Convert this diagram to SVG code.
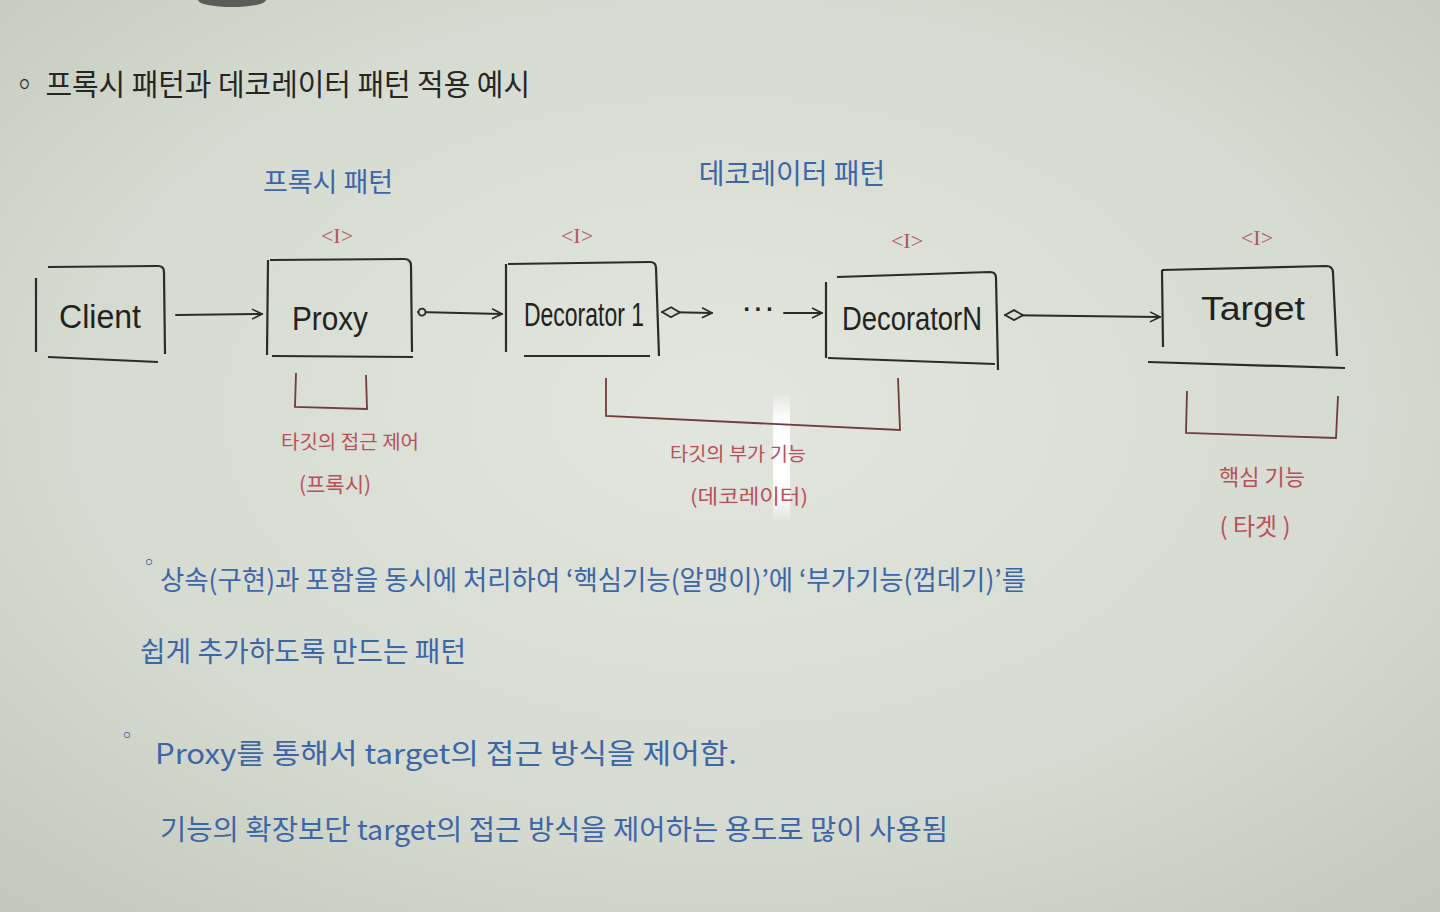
<svg xmlns="http://www.w3.org/2000/svg" width="1440" height="912" viewBox="0 0 1440 912">
<defs>
<radialGradient id="bg" cx="0.5" cy="0.45" r="0.75">
<stop offset="0" stop-color="#e2e6de"/>
<stop offset="0.6" stop-color="#d6dbd1"/>
<stop offset="1" stop-color="#c2c7bb"/>
</radialGradient>
<linearGradient id="glare" x1="0" y1="0" x2="0" y2="1">
<stop offset="0" stop-color="#ffffff" stop-opacity="0"/>
<stop offset="0.2" stop-color="#ffffff" stop-opacity="0.95"/>
<stop offset="0.8" stop-color="#ffffff" stop-opacity="0.95"/>
<stop offset="1" stop-color="#ffffff" stop-opacity="0"/>
</linearGradient>
<marker id="arrow" viewBox="0 0 12 12" refX="11" refY="6" markerWidth="12" markerHeight="12" markerUnits="userSpaceOnUse" orient="auto">
<path d="M1,1 L11,6 L1,11" fill="none" stroke="#2b2b28" stroke-width="1.6"/>
</marker>
<marker id="diamond" viewBox="0 0 20 12" refX="1" refY="6" markerWidth="20" markerHeight="12" markerUnits="userSpaceOnUse" orient="auto">
<path d="M1,6 L10,1 L19,6 L10,11 Z" fill="#d9ddd4" stroke="#2b2b28" stroke-width="1.8"/>
</marker>
<marker id="dot" viewBox="0 0 10 10" refX="1" refY="5" markerWidth="10" markerHeight="10" markerUnits="userSpaceOnUse" orient="auto">
<circle cx="5" cy="5" r="3.5" fill="#d9ddd4" stroke="#2b2b28" stroke-width="1.8"/>
</marker>
</defs>
<style>
.ink{fill:none;stroke:#2b2b28;stroke-width:2;stroke-linecap:round}
.box{fill:none;stroke:#2b2b28;stroke-width:2.2;stroke-linejoin:round}
.brk{fill:none;stroke:#6e3d3c;stroke-width:1.8}
.lbl{font-family:"Liberation Sans",sans-serif;font-size:34px;fill:#222220;text-anchor:middle}
.kr{font-family:"Noto Sans CJK KR","Noto Sans",sans-serif}
.black{fill:#262624}
.blue{fill:#3d66a8}
.red{fill:#b8505a}
.iface{font-family:"Liberation Serif",serif;font-size:22px;fill:#b05a5e;text-anchor:middle}
.mid{text-anchor:middle}
</style>
<rect x="0" y="0" width="1440" height="912" fill="url(#bg)"/>
<ellipse cx="232" cy="0" rx="34" ry="7" fill="#5a5c57"/>
<rect x="773" y="392" width="17" height="130" fill="url(#glare)"/>

<g id="title">
<text x="10" y="95" class="kr black" font-size="30" textLength="520" lengthAdjust="spacingAndGlyphs">◦ 프록시 패턴과 데코레이터 패턴 적용 예시</text>
</g>
<g id="group-labels">
<text x="328" y="192" class="kr blue mid" font-size="27">프록시 패턴</text>
<text x="792" y="184" class="kr blue mid" font-size="28">데코레이터 패턴</text>
</g>
<g id="interface-marks">
<text x="337" y="243" class="iface">&lt;I&gt;</text>
<text x="577" y="243" class="iface">&lt;I&gt;</text>
<text x="907" y="248" class="iface">&lt;I&gt;</text>
<text x="1257" y="245" class="iface">&lt;I&gt;</text>
</g>

<g id="connectors">
<line x1="176" y1="315" x2="262" y2="314" class="ink" marker-end="url(#arrow)"/>
<line x1="418" y1="312" x2="502" y2="314" class="ink" marker-start="url(#dot)" marker-end="url(#arrow)"/>
<line x1="662" y1="312" x2="712" y2="313" class="ink" marker-start="url(#diamond)" marker-end="url(#arrow)"/>
<text x="758" y="318" class="lbl" font-size="20">···</text>
<line x1="784" y1="313" x2="822" y2="313" class="ink" marker-end="url(#arrow)"/>
<line x1="1005" y1="315" x2="1160" y2="317" class="ink" marker-start="url(#diamond)" marker-end="url(#arrow)"/>
</g>

<g id="client">
<path class="box" d="M48,267 L158,266 Q164,266 164,272 L165,354 M36,278 L36,352 M48,357 L158,362"/>
<text x="100" y="328" class="lbl" font-size="40" textLength="82" lengthAdjust="spacingAndGlyphs">Client</text>
</g>
<g id="proxy">
<path class="box" d="M270,260 L404,259 Q411,259 411,266 L412,352 M268,260 L267,355 M272,356 L413,357"/>
<text x="330" y="330" class="lbl" font-size="38" textLength="76" lengthAdjust="spacingAndGlyphs">Proxy</text>
</g>
<g id="decorator1">
<path class="box" d="M508,264 L650,262 Q656,262 656,268 L659,356 M506,264 L506,352 M524,356 L650,356"/>
<text x="584" y="326" class="lbl" font-size="30" textLength="120" lengthAdjust="spacingAndGlyphs">Decorator 1</text>
</g>
<g id="decoratorN">
<path class="box" d="M837,277 L990,272 Q996,272 996,278 L998,370 M826,282 L826,358 M828,358 L995,364"/>
<text x="912" y="330" class="lbl" font-size="32" textLength="140" lengthAdjust="spacingAndGlyphs">DecoratorN</text>
</g>
<g id="target">
<path class="box" d="M1162,270 L1326,266 Q1333,266 1333,273 L1337,356 M1162,270 L1163,347 M1148,362 L1345,368"/>
<text x="1253" y="320" class="lbl" font-size="38" textLength="104" lengthAdjust="spacingAndGlyphs">Target</text>
</g>

<g id="proxy-role">
<path class="brk" d="M296,373 L295,407 L367,409 L366,375"/>
<text x="350" y="449" class="kr red mid" font-size="19" textLength="138" lengthAdjust="spacingAndGlyphs">타깃의 접근 제어</text>
<text x="335" y="492" class="kr red mid" font-size="21">(프록시)</text>
</g>
<g id="decorator-role">
<path class="brk" d="M606,378 L606,416 L900,430 L898,378"/>
<text x="738" y="461" class="kr red mid" font-size="19" textLength="136" lengthAdjust="spacingAndGlyphs">타깃의 부가 기능</text>
<text x="749" y="504" class="kr red mid" font-size="20" textLength="118" lengthAdjust="spacingAndGlyphs">(데코레이터)</text>
</g>
<g id="target-role">
<path class="brk" d="M1187,391 L1186,433 L1336,438 L1338,396"/>
<text x="1262" y="485" class="kr red mid" font-size="22">핵심 기능</text>
<text x="1255" y="535" class="kr red mid" font-size="24">( 타겟 )</text>
</g>

<g id="notes">
<text x="139" y="570" class="kr blue" font-size="20">◦</text>
<text x="160" y="590" class="kr blue" font-size="27" textLength="866" lengthAdjust="spacingAndGlyphs">상속(구현)과 포함을 동시에 처리하여 ‘핵심기능(알맹이)’에 ‘부가기능(껍데기)’를</text>
<text x="140" y="662" class="kr blue" font-size="28" textLength="326" lengthAdjust="spacingAndGlyphs">쉽게 추가하도록 만드는 패턴</text>
<text x="117" y="743" class="kr blue" font-size="20">◦</text>
<text x="155" y="764" class="kr blue" font-size="28" textLength="582" lengthAdjust="spacingAndGlyphs">Proxy를 통해서 target의 접근 방식을 제어함.</text>
<text x="160" y="840" class="kr blue" font-size="28" textLength="788" lengthAdjust="spacingAndGlyphs">기능의 확장보단 target의 접근 방식을 제어하는 용도로 많이 사용됨</text>
</g>
</svg>
